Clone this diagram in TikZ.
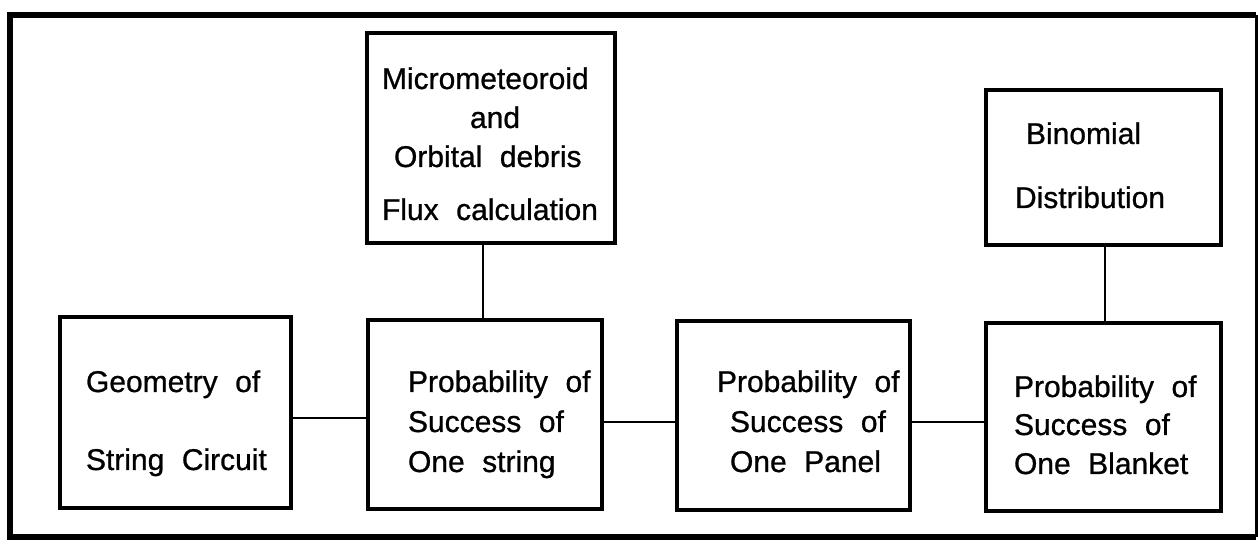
\documentclass[tikz,border=0pt]{standalone}
\usepackage{fontspec}
\setmainfont{Liberation Sans}[WordSpace=2.1,FakeBold=0.8]
\begin{document}
\begin{tikzpicture}[x=0.5pt,y=-0.5pt,
  box/.style={draw,line width=2.3pt,inner sep=0pt,outer sep=0pt},
  lbl/.style={anchor=base west,inner sep=0pt,outer sep=0pt,font=\fontsize{15pt}{18pt}\selectfont},
  link/.style={line width=1.3pt}]
\useasboundingbox (0,0) rectangle (1258,544);
% outer frame
\draw[line width=3pt] (1256,15) -- (10,15) -- (10,537) -- (1256,537);
\draw[line width=1.5pt] (1256,15) -- (1256,537);
% boxes
\node[box,minimum width=115.5pt,minimum height=95.5pt] (geo) at (175.5,412.5) {};
\node[box,minimum width=117pt,minimum height=94.5pt] (str) at (485,414.5) {};
\node[box,minimum width=116.5pt,minimum height=94.5pt] (pan) at (793.5,415.5) {};
\node[box,minimum width=117.5pt,minimum height=94pt] (bla) at (1103.5,417) {};
\node[box,minimum width=124pt,minimum height=105pt] (mic) at (491,138) {};
\node[box,minimum width=117.5pt,minimum height=77.5pt] (bin) at (1103.5,167.5) {};
% texts
\node[lbl] (g1) at (86,392) {Geometry of};
\node[lbl] (g2) at (86,470) {String Circuit};
\node[lbl] (s1) at (408,392) {Probability of};
\node[lbl] (s2) at (408,432) {Success of};
\node[lbl] (s3) at (408,472) {One string};
\node[lbl] (p1) at (717,392) {Probability of};
\node[lbl] (p2) at (730,432) {Success of};
\node[lbl] (p3) at (730,472) {One Panel};
\node[lbl] (b1) at (1014,397) {Probability of};
\node[lbl] (b2) at (1014,435) {Success of};
\node[lbl] (b3) at (1014,474) {One Blanket};
\node[lbl] (m1) at (382,89) {Micrometeoroid};
\node[lbl] (m2) at (470,128) {and};
\node[lbl] (m3) at (394,167) {Orbital debris};
\node[lbl] (m4) at (382,220) {Flux calculation};
\node[lbl] (n1) at (1026,144) {Binomial};
\node[lbl] (n2) at (1015,208) {Distribution};
% connectors
\draw[link] ([yshift=-2.75pt]geo.east) -- ([yshift=-2.75pt]geo.east -| str.west);
\draw[link] ([yshift=-3.75pt]str.east) -- ([yshift=-3.75pt]str.east -| pan.west);
\draw[link] ([yshift=-3.25pt]pan.east) -- ([yshift=-3.25pt]pan.east -| bla.west);
\draw[link] ([xshift=-4pt]mic.south) -- ([xshift=-4pt]mic.south |- str.north);
\draw[link] ([xshift=0.75pt]bin.south) -- ([xshift=0.75pt]bin.south |- bla.north);
\end{tikzpicture}
\end{document}
